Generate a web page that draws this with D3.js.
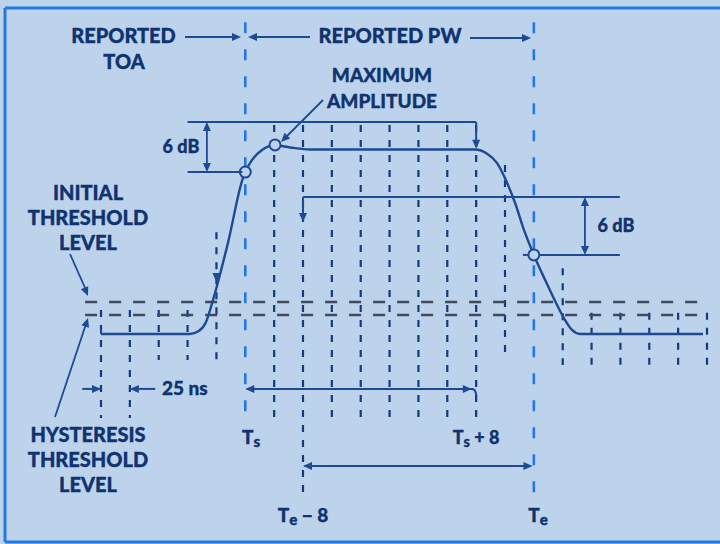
<!DOCTYPE html>
<html><head><meta charset="utf-8">
<script src="https://cdn.jsdelivr.net/npm/d3@7"></script>
<style>
html,body{margin:0;padding:0;background:#bdd3ec;}
svg{display:block;}
text{font-family:Lato,"Open Sans",sans-serif;font-weight:900;fill:#10336f;stroke:#10336f;stroke-width:0.35px;}
</style></head>
<body>
<svg id="c" width="720" height="544"></svg>
<script>
// ---- data (time in 25 ns steps, amplitude in arbitrary units) ----
const gridT      = [0, 1, 2, 3, 4, 5, 6, 7, 8, 9, 10, 11, 12, 13, 14, 15, 16, 17, 18, 19, 20, 21];
const gridTop    = [11.3, 11.3, 11.3, 11.3, 48, 147, 98.6, 98.6, 98.6, 98.6, 98.6, 98.6, 98.6, 98.6, 79.7, 147, 31, 10, 10, 10, 10, 10];
const gridBottom = [-39.6, -39.6, -12.3, -12.3, -12.3, -38, -39.6, -77, -39.6, -39.6, -39.6, -39.6, -39.6, -39.6, -12.3, -80.7, -14.6, -14.6, -14.6, -14.6, -14.6, -14.6];
const gridEdge   = [5, 15]; // Ts and Te

const pulseT = [0, 3.08, 3.4, 3.64, 3.88, 4.4, 4.92, 5.0, 5.23, 5.58, 6.03, 6.55, 7.24, 12.96, 13.38, 13.72, 14.03, 14.35, 14.66, 15.0, 15.39, 15.77, 16.08, 16.32, 16.6, 20.86];
const pulseA = [0, 0, 1.5, 5.7, 16, 43, 73.6, 76.4, 82, 86.8, 89, 88, 87, 87, 85, 80.7, 72.6, 61.8, 49, 37.3, 25.5, 14.6, 6.6, 1.9, 0, 0];

const thresholds = [15.1, 8.96];   // initial, hysteresis
const circlesT = [5, 6.03, 15];
const circlesA = [76.4, 89.2, 37.3];

const svg = d3.select("#c");
const W = 720, H = 544;
const x = d3.scaleLinear().domain([0, 21]).range([101, 707]);
const y = d3.scaleLinear().domain([0, 100]).range([334, 122]);

const NAVY = "#143a7c", LINE = "#1d4a92", BLUE = "#2479e0", GREY = "#3d4a5c";

// frame
svg.append("rect").attr("x",0).attr("y",0).attr("width",W).attr("height",H).attr("fill","#bdd3ec");
svg.append("line").attr("x1",5).attr("x2",W).attr("y1",8).attr("y2",8).attr("stroke",BLUE).attr("stroke-width",3);
svg.append("line").attr("x1",5).attr("x2",5).attr("y1",8).attr("y2",542).attr("stroke",BLUE).attr("stroke-width",3);
svg.append("line").attr("x1",5).attr("x2",W).attr("y1",542).attr("y2",542).attr("stroke",BLUE).attr("stroke-width",3);

// grid lines
gridT.forEach((t,i)=>{
  const edge = gridEdge.includes(t);
  svg.append("line")
    .attr("x1",x(t)).attr("x2",x(t))
    .attr("y1",y(gridTop[i])).attr("y2",y(gridBottom[i]))
    .attr("stroke", edge ? BLUE : NAVY)
    .attr("stroke-width", edge ? 2.6 : 2.2)
    .attr("stroke-dasharray", edge ? "11,16" : "7,8");
});

// threshold lines
thresholds.forEach(a=>{
  svg.append("line").attr("x1",x(-0.55)).attr("x2",x(21)).attr("y1",y(a)).attr("y2",y(a))
    .attr("stroke",GREY).attr("stroke-width",2.4).attr("stroke-dasharray","12,12");
});

function seg(t1,a1,t2,a2,w){
  svg.append("line").attr("x1",x(t1)).attr("y1",y(a1)).attr("x2",x(t2)).attr("y2",y(a2))
    .attr("stroke",LINE).attr("stroke-width",w||2);
}
function pseg(x1,y1,x2,y2,w){
  svg.append("line").attr("x1",x1).attr("y1",y1).attr("x2",x2).attr("y2",y2)
    .attr("stroke",LINE).attr("stroke-width",w||2);
}
function head(px,py,dx,dy){
  const L=Math.hypot(dx,dy), ux=dx/L, uy=dy/L, len=9, hw=4;
  const bx=px-ux*len, by=py-uy*len;
  svg.append("path").attr("d",`M${px},${py}L${bx-uy*hw},${by+ux*hw}L${bx+uy*hw},${by-ux*hw}Z`).attr("fill",LINE);
}

// pulse
const pts = pulseT.map((t,i)=>[x(t),y(pulseA[i])]);
svg.append("path").attr("d", d3.line().curve(d3.curveMonotoneX)(pts))
  .attr("fill","none").attr("stroke",LINE).attr("stroke-width",2.4);
pseg(x(0),y(0),x(0),y(0)-5,2);

// circles
circlesT.forEach((t,i)=>{
  svg.append("circle").attr("cx",x(t)).attr("cy",y(circlesA[i])).attr("r",5.5)
    .attr("fill","#bdd3ec").attr("stroke",LINE).attr("stroke-width",2);
});

// left 6 dB
seg(3.0,100,13,100,2);
seg(13,100,13,88.5,2); head(x(13),y(87.4),0,1);
seg(3.0,76.4,4.9,76.4,2);
seg(3.67,98,3.67,78.5,1.8); head(x(3.67),y(100),0,-1); head(x(3.67),y(76.4),0,1);
// right 6 dB
seg(7,64.6,17.98,64.6,2);
seg(7,64.6,7,54,2); head(x(7),y(52.8),0,1);
seg(14.62,37.3,14.82,37.3,2); seg(15.18,37.3,17.98,37.3,2);
seg(16.77,63,16.77,39,1.8); head(x(16.77),y(64.6),0,-1); head(x(16.77),y(37.3),0,1);
head(x(4),y(24.5),0,1);

// bottom arrows
seg(5.05,-25.9,12.9,-25.9,2); head(x(5),y(-25.9),-1,0); head(x(12.85),y(-25.9),1,0);
svg.append("path").attr("d",`M${x(12.85)},${y(-25.9)}Q${x(13)},${y(-25.9)} ${x(13)},${y(-25.9)+7}`).attr("fill","none").attr("stroke",LINE).attr("stroke-width",2);
seg(7.05,-62.3,14.9,-62.3,2); head(x(7),y(-62.3),-1,0); head(x(14.95),y(-62.3),1,0);
seg(-0.65,-25.9,-0.05,-25.9,2); head(x(0),y(-25.9),1,0);
seg(1.88,-25.9,1.05,-25.9,2); head(x(1),y(-25.9),-1,0);

// top arrows
pseg(185,37,238,37,1.8); head(241,37,1,0);
pseg(255,37,310,37,1.8); head(248,37,-1,0);
pseg(470,38,526,38,1.8); head(531,38,1,0);
pseg(323,100,287,136,1.8); head(281,142,-1,1);
pseg(70,254,86,290,1.8); head(88,296,0.42,1);
pseg(55,417,86,324,1.8); head(88,318,0.32,-1);

// texts
function txt(s,cx,by,size,anchor){
  return svg.append("text").attr("x",cx).attr("y",by).attr("font-size",size||20)
    .attr("text-anchor",anchor||"middle").text(s);
}
txt("REPORTED",123.5,43,20);
txt("TOA",124,69,20);
txt("REPORTED PW",390,43,20);
txt("MAXIMUM",382,82,19);
txt("AMPLITUDE",382,108,19);
txt("6 dB",181,153,18);
txt("6 dB",616,232,18);
txt("INITIAL",88,200,20);
txt("THRESHOLD",88,225,20);
txt("LEVEL",88,250,20);
txt("HYSTERESIS",88,442,20);
txt("THRESHOLD",88,467,20);
txt("LEVEL",88,492,20);
txt("25 ns",162,395,19,"start");

function sub(main,s,rest,cx,by,size){
  const t=svg.append("text").attr("x",cx).attr("y",by).attr("font-size",size).attr("text-anchor","middle");
  t.append("tspan").text(main);
  t.append("tspan").attr("font-size",size*0.8).attr("dy",3).text(s);
  if(rest) t.append("tspan").attr("dy",-3).text(rest);
}
sub("T","s","",251,444,19);
sub("T","s"," + 8",476,444,18);
sub("T","e"," − 8",303,522,19);
sub("T","e","",538,522,19);
</script>
</body></html>
